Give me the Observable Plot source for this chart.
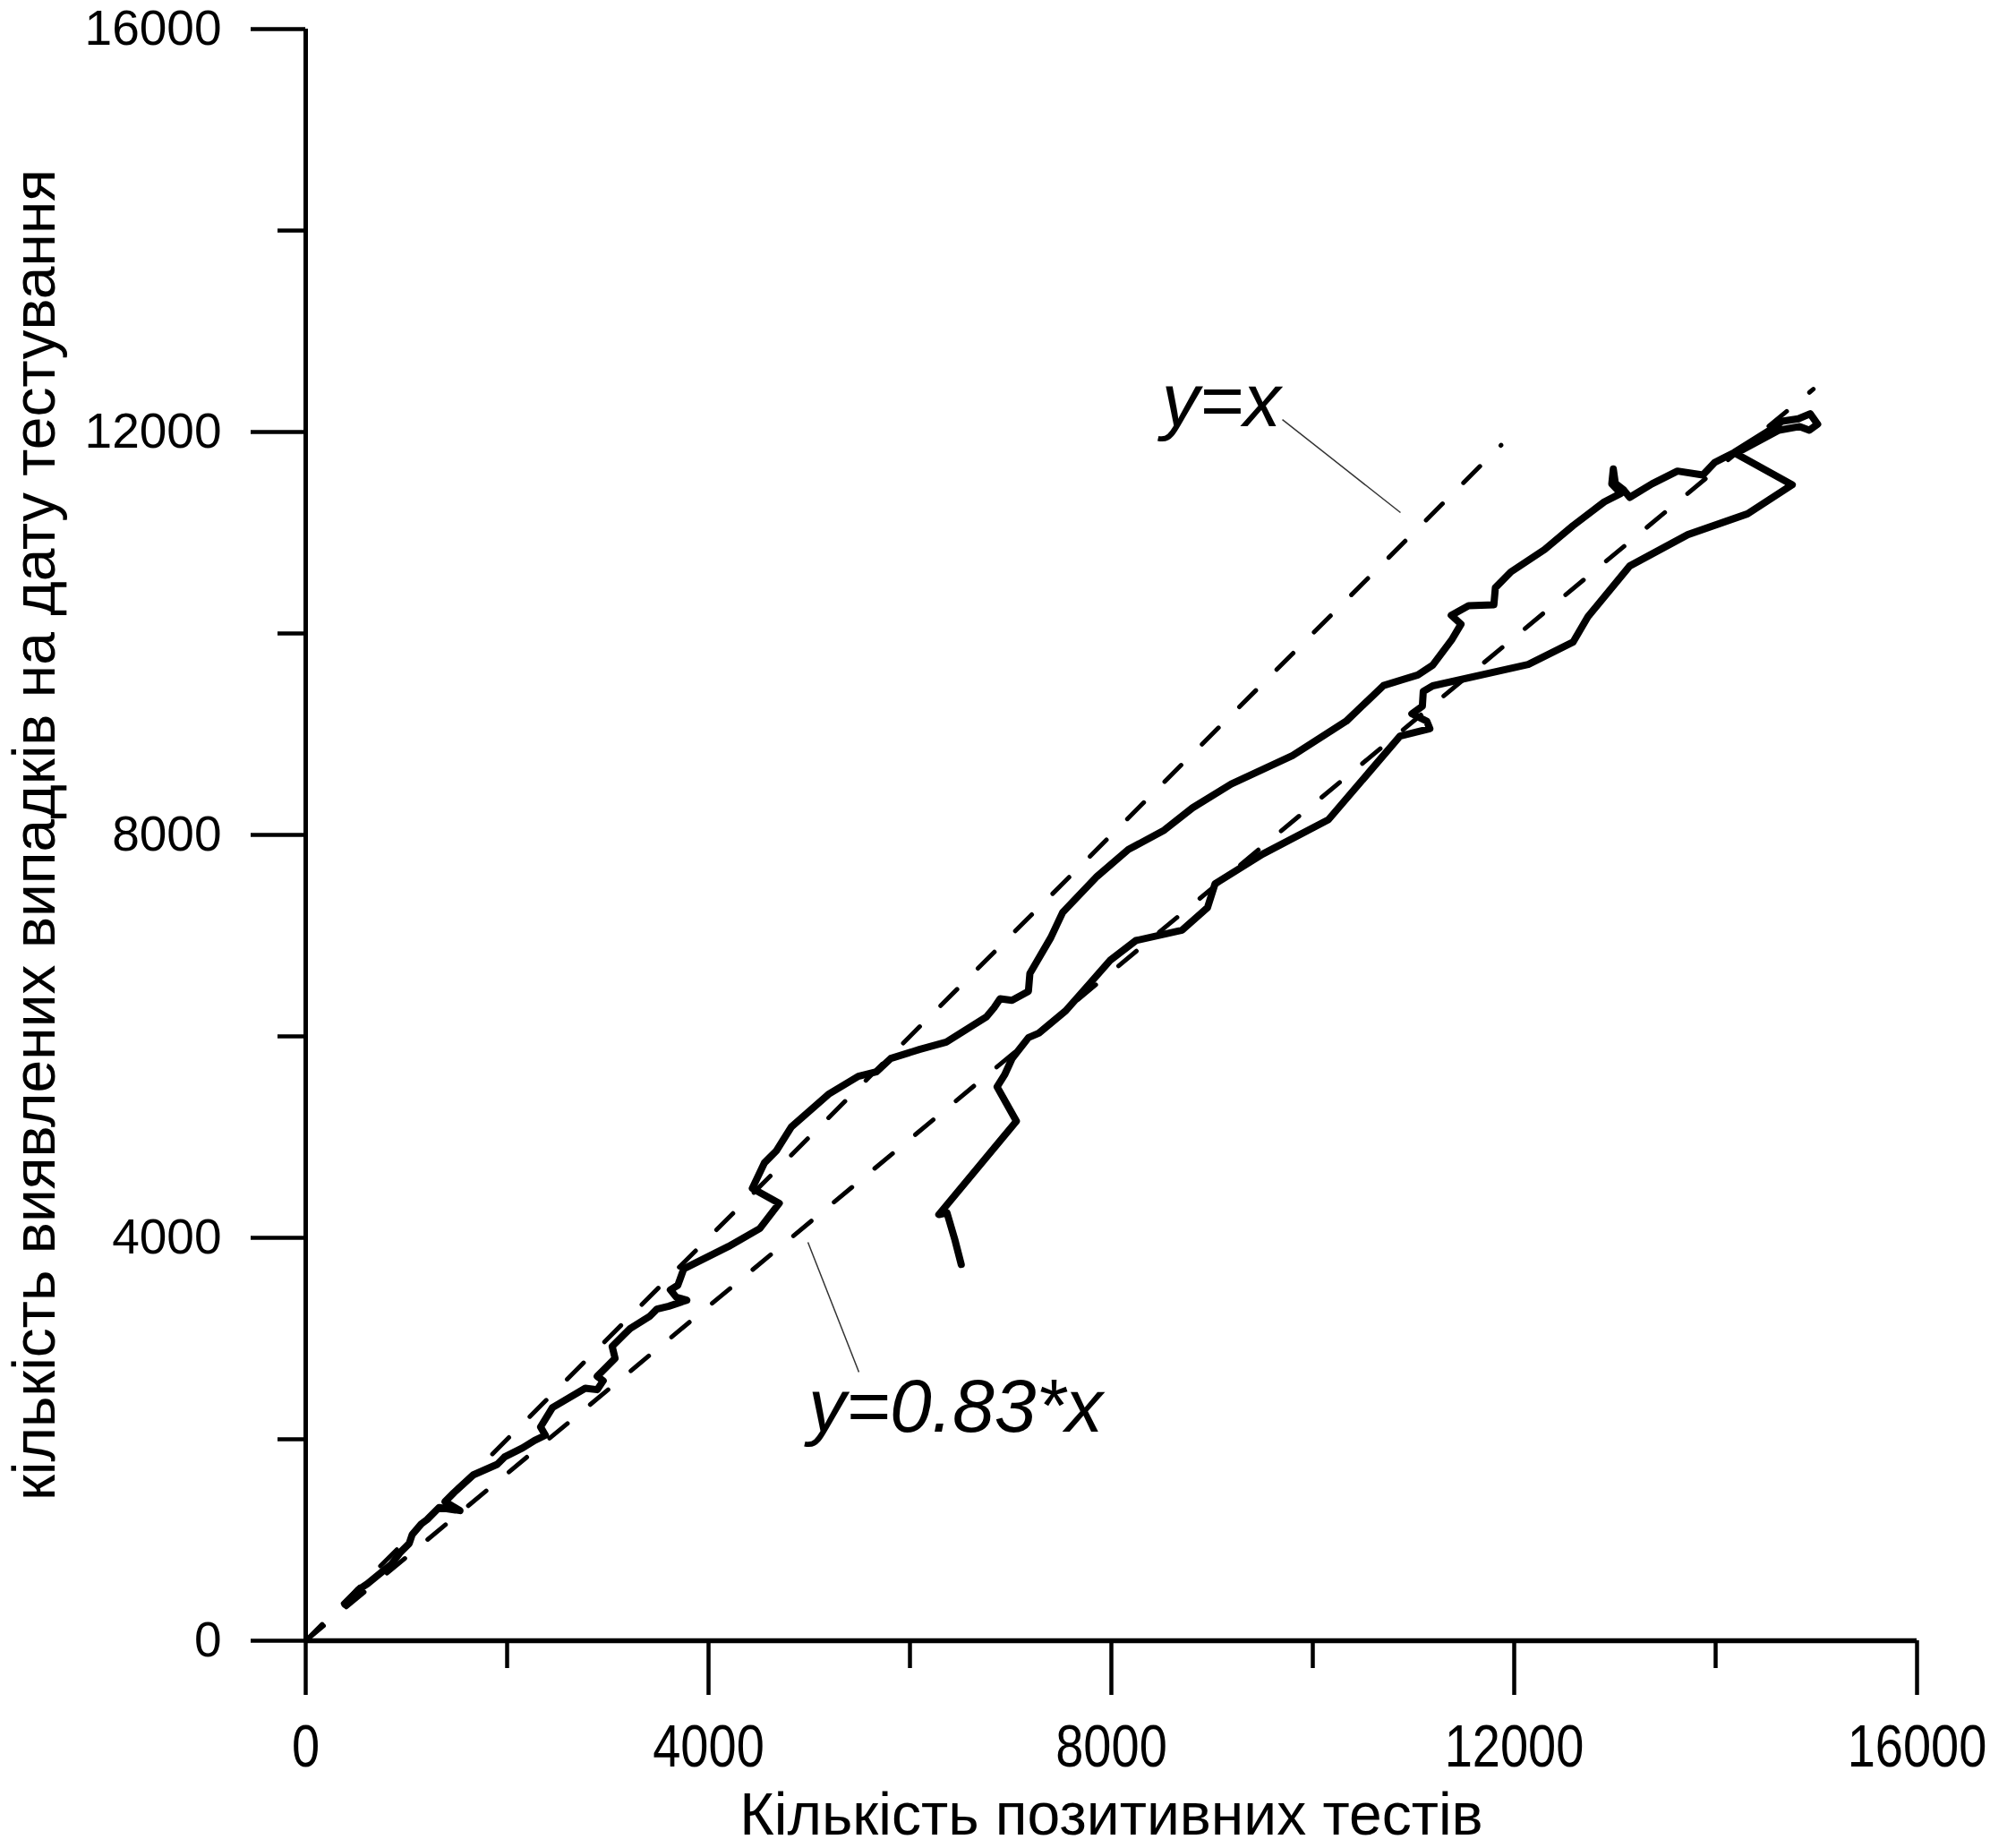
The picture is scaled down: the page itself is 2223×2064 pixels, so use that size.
<!DOCTYPE html>
<html>
<head>
<meta charset="utf-8">
<script src="https://cdn.jsdelivr.net/npm/d3@7"></script>
<script src="https://cdn.jsdelivr.net/npm/@observablehq/plot@0.6"></script>
<style>
  html, body { margin: 0; padding: 0; background: #fff; }
</style>
</head>
<body>
<div id="chart"></div>
<script>
// ---- data ----
const pathX = [391,524,613,776,850,939,1028,1058,1147,1206,1324,1532,1384,1472,1665,1902,1976,2154,2272,2380,2332,2450,2776,2895,2954,2895,3072,3043,3161,3221,3413,3487,3606,3784,3680,3621,3695,3754,4198,4509,4702,4435,4554,4672,4821,5191,5487,5665,5810,6094,6361,6598,6761,6835,6895,7013,7176,7191,7399,7517,7858,8169,8525,8806,9191,9799,10332,10703,11043,11191,11384,11472,11375,11547,11798,11813,11967,12302,12584,12895,13058,12969,12984,13004,13087,13147,13369,13621,13873,13991,14184,14539,14658,14821,14939,15013,14930,14835,14628,14198,14761,14317,13724,13147,12732,12584,12139,11191,11097,11088,10984,11132,11162,10866,10155,9503,9029,8954,8703,8243,7991,7769,7547,7280,7177,7014,6940,6865,7057,6287,6367,6444,6509];
const pathY = [359,507,566,699,758,877,966,1055,1159,1203,1322,1292,1381,1470,1647,1751,1825,1914,1988,2040,2122,2314,2507,2492,2581,2625,2803,2922,3040,3099,3218,3292,3321,3381,3410,3484,3529,3692,3914,4092,4343,4492,4743,4862,5099,5425,5603,5647,5781,5870,5944,6092,6195,6284,6373,6358,6447,6625,6981,7232,7588,7855,8047,8269,8506,8788,9129,9484,9588,9685,9944,10092,10181,10276,10285,10454,10611,10833,11070,11307,11390,11485,11633,11491,11425,11351,11485,11612,11574,11698,11796,12018,12107,12131,12181,12077,12018,12054,12018,11787,11476,11188,10981,10670,10166,9914,9692,9480,9425,9277,9203,9129,9055,8981,8151,7810,7514,7277,7055,6951,6758,6506,6254,6032,5988,5780,5618,5499,5158,4231,4249,3988,3736];

// reference lines (end points)
const refEqualX = [0, 11870];
const refEqualY = [0, 11870];
const refSlopeX = [0, 14970];
const refSlopeY = [0, 12425];

// ticks
const majorTicks = [0, 4000, 8000, 12000, 16000];
const minorTicks = [2000, 6000, 10000, 14000];

// texts
const xTitle = "Кількість позитивних тестів";
const yTitle = "кількість виявлених випадків на дату тестування";
const annoText = ["y=x", "y=0.83*x"];
const annoX = [8500, 4990];
const annoY = [12299, 2316];
const leaderX1 = [9698, 4987];
const leaderY1 = [12124, 3956];
const leaderX2 = [10871, 5493];
const leaderY2 = [11200, 2667];

// ---- build tables ----
const path = pathX.map((x, i) => ({x, y: pathY[i]}));
const refs = [
  ...refEqualX.map((x, i) => ({x, y: refEqualY[i], k: "eq"})),
  ...refSlopeX.map((x, i) => ({x, y: refSlopeY[i], k: "sl"}))
];
const annos = annoText.map((t, i) => ({t, x: annoX[i], y: annoY[i]}));
const leaders = leaderX1.map((x1, i) => ({x1, y1: leaderY1[i], x2: leaderX2[i], y2: leaderY2[i]}));

const font = "'Liberation Sans', Arial, Helvetica, sans-serif";
const fmt = d => String(d);

const chart = Plot.plot({
  width: 2223,
  height: 2064,
  marginLeft: 341,
  marginRight: 82,
  marginTop: 32,
  marginBottom: 232,
  x: {domain: [0, 16000]},
  y: {domain: [0, 16000]},
  style: {fontFamily: font, background: "white", color: "black", overflow: "visible"},
  marks: [
    Plot.axisX({ticks: minorTicks, tickSize: 31, strokeWidth: 4.5, tickFormat: () => "", label: null}),
    Plot.axisX({ticks: majorTicks, tickSize: 61, tickPadding: 32, strokeWidth: 4.5, fontSize: 56, tickFormat: fmt, label: null}),
    Plot.axisY({ticks: minorTicks, tickSize: 31, strokeWidth: 4.5, tickFormat: () => "", label: null}),
    Plot.axisY({ticks: majorTicks, tickSize: 61, tickPadding: 33, strokeWidth: 4.5, fontSize: 55, tickFormat: fmt, label: null}),
    Plot.ruleX([0], {strokeWidth: 5}),
    Plot.ruleY([0], {strokeWidth: 5.5}),
    Plot.line(refs, {x: "x", y: "y", z: "k", stroke: "black", strokeWidth: 5, strokeDasharray: "26,33", strokeLinecap: "round"}),
    Plot.line(path, {x: "x", y: "y", stroke: "black", strokeWidth: 8, strokeLinejoin: "round", strokeLinecap: "round"}),
    Plot.link(leaders, {x1: "x1", y1: "y1", x2: "x2", y2: "y2", stroke: "#333", strokeWidth: 1.5}),
    Plot.text(annos, {x: "x", y: "y", text: "t", textAnchor: "start", lineAnchor: "middle", fontSize: 84, fontStyle: "italic", fill: "black"}),
    Plot.text([xTitle], {text: d => d, frameAnchor: "bottom", textAnchor: "middle", dy: 195, lineAnchor: "middle", fontSize: 66, fill: "black"}),
    Plot.text([yTitle], {text: d => d, frameAnchor: "left", textAnchor: "middle", dx: -302, rotate: -90, lineAnchor: "middle", fontSize: 66, fill: "black"})
  ]
});

document.getElementById("chart").appendChild(chart);

// x tick labels in the reference are drawn slightly taller than wide
d3.select(chart).selectAll('g[aria-label="x-axis tick label"] text').each(function() {
  const t = this.getAttribute("transform") || "";
  this.setAttribute("transform", t + " scale(1,1.2)");
});
</script>
</body>
</html>
